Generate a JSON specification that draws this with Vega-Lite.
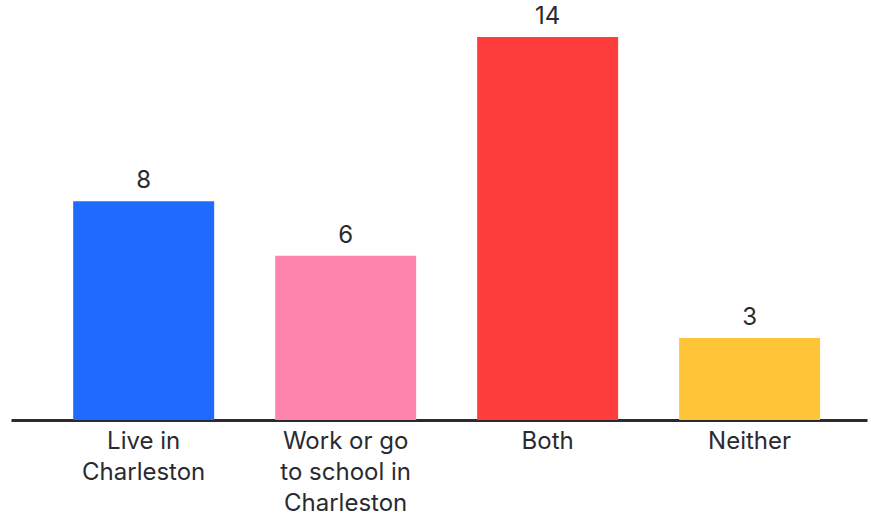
{
  "$schema": "https://vega.github.io/schema/vega-lite/v6.json",
  "autosize": "none",
  "width": 856,
  "height": 383,
  "padding": {"left": 11, "top": 37, "right": 4, "bottom": 95},
  "background": "white",
  "config": {"view": {"stroke": null}, "font": "Inter"},
  "data": {
    "values": [
      {"group": "Live in|Charleston", "count": 8, "color": "#1F6BFF"},
      {"group": "Work or go|to school in|Charleston", "count": 6, "color": "#FF85AE"},
      {"group": "Both", "count": 14, "color": "#FF3D3D"},
      {"group": "Neither", "count": 3, "color": "#FFC438"}
    ]
  },
  "encoding": {
    "x": {
      "field": "group",
      "type": "nominal",
      "sort": null,
      "scale": {"paddingInner": 0.302, "paddingOuter": 0.27, "align": 0.57},
      "axis": {
        "title": null,
        "labelAngle": 0,
        "labelExpr": "split(datum.label, '|')",
        "labelFontSize": 24,
        "labelColor": "#2a2a30",
        "labelLineHeight": 31,
        "labelPadding": 9,
        "labelBaseline": "top",
        "ticks": false,
        "domainColor": "#2a2a30",
        "domainWidth": 3,
        "grid": false
      }
    },
    "y": {
      "field": "count",
      "type": "quantitative",
      "scale": {"domain": [0, 14], "nice": false},
      "axis": null
    }
  },
  "layer": [
    {
      "mark": {"type": "bar"},
      "encoding": {"color": {"field": "color", "type": "nominal", "scale": null}}
    },
    {
      "mark": {"type": "text", "dy": -8, "baseline": "bottom", "fontSize": 24, "color": "#2a2a30"},
      "encoding": {"text": {"field": "count", "type": "quantitative"}}
    }
  ]
}
